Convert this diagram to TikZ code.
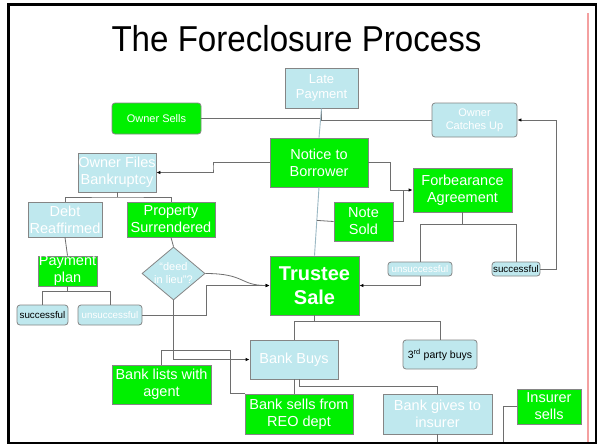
\documentclass[tikz,border=0pt]{standalone}
\usepackage{fontspec}
\setmainfont{Liberation Sans}
\usepackage{tikz}
\usetikzlibrary{arrows.meta,calc,shapes.geometric}
\definecolor{grn}{HTML}{00F000}
\definecolor{pale}{HTML}{BFE8EE}
\definecolor{boxgray}{HTML}{858585}
\definecolor{lnk}{HTML}{6E6E6E}
\definecolor{blueln}{HTML}{9BB8C4}
\definecolor{redln}{HTML}{F4A0A0}

\begin{document}
\begin{tikzpicture}[x=1pt,y=-1pt,
  box/.style={draw=boxgray,line width=0.8pt,inner sep=0pt,align=center,text=white,font=\fontsize{14.5}{17}\selectfont},
  gbox/.style={box,fill=grn},
  bbox/.style={box,fill=pale},
  rnd/.style={rounded corners=3pt},
  tag/.style={bbox,rnd,font=\fontsize{9.8}{12}\selectfont},
  link/.style={draw=lnk,line width=0.8pt},
  arr/.style={link,-{Latex[length=4pt,width=3.5pt,color=black]}},
  bline/.style={draw=blueln,line width=0.9pt}]
  \useasboundingbox (0,0) rectangle (600,445);
  \fill[white] (0,0) rectangle (600,445);
  \draw[redln,line width=1.2pt] (588,13) -- (588,443);
  \draw[line width=2.5pt] (8.5,4.5) rectangle (596,443);

  \node[font=\fontsize{36}{40}\selectfont,anchor=base,inner sep=0pt] (title) at (296.5,51) {\scalebox{0.92}[1]{The Foreclosure Process}};

  \node[bbox,minimum width=73,minimum height=40,font=\fontsize{13}{15}\selectfont] (late) at (321.5,88) {Late\\Payment};
  \node[gbox,rnd,minimum width=89,minimum height=31,font=\fontsize{11}{13}\selectfont] (osells) at (156.5,118.5) {Owner Sells};
  \node[bbox,rnd,minimum width=85,minimum height=34,font=\fontsize{11}{13}\selectfont] (ocatch) at (474.5,120) {Owner\\Catches Up};
  \node[gbox,minimum width=98,minimum height=49] (notice) at (319,162.5) {Notice to\\Borrower};
  \node[bbox,minimum width=78,minimum height=39] (ofiles) at (117,172.5) {Owner Files\\Bankruptcy};
  \node[bbox,minimum width=74,minimum height=35] (debt) at (65,219.5) {Debt\\Reaffirmed};
  \node[gbox,minimum width=88,minimum height=35] (psurr) at (171,219.5) {Property\\Surrendered};
  \node[gbox,minimum width=59,minimum height=30] (pplan) at (67.5,271) {Payment\\plan};
  \node[diamond,draw=boxgray,fill=pale,line width=0.8pt,inner sep=-3pt,minimum width=63,minimum height=53,align=center,text=white,font=\fontsize{11}{13}\selectfont] (deed) at (173.5,273.5) {“deed\\in lieu”?};
  \node[gbox,minimum width=89,minimum height=59,font=\fontsize{20}{24}\selectfont\bfseries] (trustee) at (314.5,285.5) {Trustee\\Sale};
  \node[gbox,minimum width=59,minimum height=39] (nsold) at (363.5,221.5) {Note\\Sold};
  \node[gbox,minimum width=99,minimum height=44] (forb) at (462.5,190) {Forbearance\\Agreement};
  \node[tag,minimum width=64,minimum height=14] (unsR) at (420,269) {unsuccessful};
  \node[tag,text=black,minimum width=48,minimum height=14] (sucR) at (516,269) {successful};
  \node[tag,text=black,minimum width=51,minimum height=20] (sucL) at (42.5,315) {successful};
  \node[tag,minimum width=64,minimum height=20] (unsL) at (110,315) {unsuccessful};
  \node[bbox,minimum width=88,minimum height=39] (bbuys) at (294,359.5) {Bank Buys};
  \node[tag,text=black,minimum width=74,minimum height=29,font=\fontsize{10.5}{12}\selectfont] (third) at (440,354.5) {3\textsuperscript{rd} party buys};
  \node[gbox,minimum width=99,minimum height=39] (blists) at (161.5,384.5) {Bank lists with\\agent};
  \node[gbox,minimum width=108,minimum height=40] (bsells) at (299,414) {Bank sells from\\REO dept};
  \node[bbox,minimum width=109,minimum height=40] (bgives) at (437.5,414) {Bank gives to\\insurer};
  \node[gbox,minimum width=64,minimum height=35] (isells) at (549,406.5) {Insurer\\sells};

  \coordinate (floor) at (0,442);
  \coordinate (bend) at (230,350);

  % top of the chart
  \draw[link] (osells.east) -- (osells.east -| late.south);
  \draw[link] (late.south) |- (ocatch.west);
  \draw[bline] (late.south) -- (notice.north);
  \draw[bline] (notice.south) -- (trustee.north);
  \draw[arr] (notice.west) -| ($(notice.west)!.5!(ofiles.east)$) |- (ofiles.east);
  \draw[arr] (notice.east) -| ($(notice.east)!.5!(forb.west)$) |- (forb.west);
  \draw[link] (nsold.west) -- ($(notice.south)!(nsold.west)!(trustee.north)$);
  \draw[link] (nsold.east) -| ([xshift=-9pt]forb.west);

  % bankruptcy branch
  \draw[link] (ofiles.south) -- ($(ofiles.south)!.5!(ofiles.south|-debt.north)$);
  \draw[link] (debt.north) |- ($(ofiles.south)!.5!(ofiles.south|-debt.north)$) -| (psurr.north);
  \draw[link] (debt.south) -- (pplan.north);
  \draw[link] (psurr.south) -- (deed.north);
  \draw[link] (pplan.south) -- ([yshift=-4.5pt]pplan.south);
  \draw[link] (sucL.north) |- ([yshift=-4.5pt]pplan.south) -| (unsL.north);
  \draw[arr] (unsL.east) -| ([xshift=1pt]deed.east |- trustee.west) -- (trustee.west);
  \draw[arr] (deed.east) .. controls +(40,0) and +(-30,0) .. (trustee.west);
  \draw[arr] (deed.south) |- (bbuys.west);

  % forbearance branch
  \draw[link] (forb.south) -- ([yshift=-12pt]forb.south);
  \draw[link] (unsR.north) |- ([yshift=-12pt]forb.south) -| (sucR.north);
  \draw[arr] (unsR.south) |- (trustee.east);
  \draw[arr] (sucR.east) -| ([xshift=39pt]ocatch.east) -- (ocatch.east);

  % after the sale
  \draw[link] (trustee.south) -- ([yshift=-6pt]trustee.south);
  \draw[link] (bbuys.north) |- ([yshift=-6pt]trustee.south) -| (third.north);
  \draw[link] (blists.north) |- (bend) |- (bsells.north west);
  \draw[link] (bbuys.south) -- (bbuys.south |- bsells.north);
  \draw[link] (bbuys.south -| bsells.north) |- ([yshift=7pt]bgives.north) -- (bgives.north);
  \draw[link] (bgives.south) -- (bgives.south |- floor);
  \draw[link] (isells.west) -| ([xshift=-13pt]isells.west |- floor);
\end{tikzpicture}
\end{document}
